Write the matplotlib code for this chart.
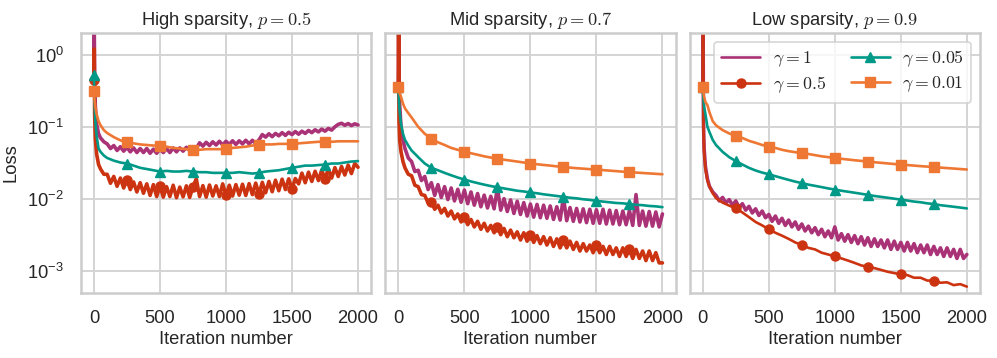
import numpy as np
import matplotlib
matplotlib.use("Agg")
import matplotlib.pyplot as plt
import seaborn as sns

# iteration grids (dense where the curves are noisy, sparse where smooth)
iters_fine = [0, 2, 5, 10, 20, 35, 50, 75] + list(range(100, 2001, 25))
iters_coarse = [0, 2, 5, 10, 20, 35, 50, 75] + list(range(100, 2001, 50))

titles = ["High sparsity, $p=0.5$", "Mid sparsity, $p=0.7$", "Low sparsity, $p=0.9$"]
labels = [r"$\gamma=1$", r"$\gamma=0.5$", r"$\gamma=0.05$", r"$\gamma=0.01$"]
colors = ["#AA3377", "#CC3311", "#009988", "#EE7733"]
markers = [None, "o", "^", "s"]

# ---- high sparsity, p = 0.5 ----
p1_g1 = [0.45, 3.0, 0.5, 0.2, 0.11, 0.08, 0.07, 0.062,
         0.058, 0.05, 0.055, 0.047, 0.053, 0.046, 0.052, 0.045, 0.051, 0.044,
         0.05, 0.044, 0.05, 0.043, 0.049, 0.043, 0.049, 0.044, 0.05, 0.044,
         0.051, 0.045, 0.051, 0.046, 0.052, 0.047, 0.053, 0.05, 0.06, 0.054,
         0.061, 0.055, 0.062, 0.056, 0.063, 0.056, 0.063, 0.057, 0.064, 0.057,
         0.064, 0.058, 0.065, 0.058, 0.065, 0.059, 0.066, 0.078, 0.072, 0.08,
         0.073, 0.081, 0.075, 0.083, 0.076, 0.084, 0.078, 0.086, 0.079, 0.087,
         0.081, 0.089, 0.083, 0.091, 0.085, 0.093, 0.087, 0.095, 0.09, 0.1,
         0.108, 0.112, 0.105, 0.111, 0.104, 0.11, 0.106]
p1_g05 = [0.45, 1.2, 0.15, 0.07, 0.042, 0.03, 0.026, 0.022,
          0.022, 0.0165, 0.0205, 0.015, 0.0195, 0.0142, 0.0185, 0.0135, 0.0172, 0.0125,
          0.0168, 0.012, 0.0162, 0.0112, 0.0158, 0.0108, 0.0152, 0.0106, 0.0148, 0.0108,
          0.0155, 0.0104, 0.0146, 0.0107, 0.0152, 0.0105, 0.0148, 0.019, 0.0108, 0.0153,
          0.0106, 0.0156, 0.011, 0.0152, 0.0108, 0.0162, 0.0112, 0.0155, 0.011, 0.0158,
          0.0113, 0.016, 0.0112, 0.0163, 0.0115, 0.0166, 0.0117, 0.017, 0.0122, 0.0175,
          0.0126, 0.0182, 0.013, 0.0188, 0.0135, 0.019, 0.0138, 0.0192, 0.0162, 0.0228,
          0.0168, 0.0235, 0.0175, 0.0242, 0.018, 0.0252, 0.0188, 0.0262, 0.0195, 0.0272,
          0.0205, 0.0282, 0.0215, 0.0295, 0.0225, 0.031, 0.0275]
p1_g005 = [0.52, 0.35, 0.2, 0.12, 0.075, 0.05, 0.045, 0.04,
           0.037, 0.034, 0.032, 0.031, 0.029, 0.027, 0.026, 0.025, 0.024, 0.0245,
           0.024, 0.024, 0.0245, 0.024, 0.0235, 0.0235, 0.023, 0.023, 0.023, 0.023,
           0.0235, 0.023, 0.0225, 0.023, 0.024, 0.0245, 0.025, 0.026, 0.027, 0.028,
           0.029, 0.029, 0.0295, 0.030, 0.031, 0.031, 0.032, 0.033, 0.0335]
p1_g001 = [0.31, 0.27, 0.23, 0.19, 0.15, 0.12, 0.105, 0.09,
           0.082, 0.072, 0.065, 0.061, 0.059, 0.057, 0.056, 0.055, 0.055, 0.053,
           0.051, 0.05, 0.049, 0.048, 0.048, 0.049, 0.049, 0.049, 0.049, 0.051,
           0.052, 0.053, 0.055, 0.056, 0.057, 0.057, 0.058, 0.058, 0.058, 0.059,
           0.06, 0.061, 0.062, 0.062, 0.062, 0.063, 0.063, 0.063, 0.063]

# ---- mid sparsity, p = 0.7 ----
p2_g1 = [0.36, 3.0, 0.4, 0.2, 0.1, 0.065, 0.05, 0.037,
         0.033, 0.024, 0.025, 0.018, 0.0205, 0.0135, 0.0168, 0.0112, 0.0158, 0.0105,
         0.0148, 0.0098, 0.0142, 0.0094, 0.0136, 0.009, 0.0133, 0.0086, 0.0125, 0.0082,
         0.0119, 0.0078, 0.0113, 0.0075, 0.0109, 0.0073, 0.0142, 0.007, 0.0101, 0.0067,
         0.0097, 0.0063, 0.0093, 0.0061, 0.0089, 0.0058, 0.0085, 0.0056, 0.0084, 0.0055,
         0.0082, 0.0054, 0.008, 0.0052, 0.0078, 0.0051, 0.0105, 0.005, 0.0076, 0.0049,
         0.0074, 0.0048, 0.0073, 0.0047, 0.0072, 0.0046, 0.0071, 0.0046, 0.0072, 0.0045,
         0.007, 0.0045, 0.0069, 0.0044, 0.0068, 0.0044, 0.0069, 0.0043, 0.0115, 0.0043,
         0.0068, 0.0042, 0.0067, 0.0042, 0.0066, 0.0041, 0.0062]
p2_g05 = [0.36, 3.0, 0.12, 0.065, 0.045, 0.033, 0.027, 0.022,
          0.021, 0.0155, 0.0148, 0.0115, 0.0112, 0.0088, 0.0092, 0.0072, 0.0082, 0.0064,
          0.0074, 0.0058, 0.0068, 0.0053, 0.0062, 0.0048, 0.0056, 0.0044, 0.0052, 0.0041,
          0.0049, 0.0038, 0.0046, 0.0036, 0.0043, 0.0034, 0.0041, 0.0032, 0.0039, 0.003,
          0.0037, 0.0029, 0.0035, 0.0027, 0.0034, 0.0026, 0.0032, 0.0025, 0.0031, 0.0024,
          0.003, 0.0023, 0.0029, 0.0022, 0.0028, 0.0021, 0.0027, 0.0021, 0.0026, 0.002,
          0.0025, 0.0019, 0.0024, 0.0019, 0.0023, 0.0018, 0.0023, 0.0018, 0.0022, 0.0017,
          0.0022, 0.0017, 0.0021, 0.0016, 0.0021, 0.0016, 0.002, 0.0015, 0.002, 0.0015,
          0.0019, 0.0014, 0.0019, 0.0014, 0.0018, 0.0013, 0.0013]
p2_g005 = [0.36, 0.3, 0.22, 0.16, 0.11, 0.08, 0.066, 0.055,
           0.047, 0.038, 0.031, 0.027, 0.025, 0.023, 0.0213, 0.0198, 0.0186, 0.0175,
           0.0166, 0.0158, 0.0151, 0.0145, 0.014, 0.0135, 0.013, 0.0127, 0.0123, 0.012,
           0.0116, 0.0113, 0.011, 0.0107, 0.0104, 0.0102, 0.0099, 0.0097, 0.0094, 0.0092,
           0.009, 0.0088, 0.0087, 0.0085, 0.0083, 0.0082, 0.008, 0.0079, 0.0077]
p2_g001 = [0.36, 0.34, 0.32, 0.29, 0.26, 0.21, 0.18, 0.155,
           0.135, 0.1, 0.08, 0.068, 0.061, 0.056, 0.051, 0.048, 0.045, 0.043,
           0.041, 0.039, 0.0375, 0.036, 0.035, 0.034, 0.033, 0.032, 0.031, 0.0303,
           0.0296, 0.029, 0.0283, 0.0277, 0.0272, 0.0267, 0.0263, 0.0259, 0.0255, 0.0251,
           0.0247, 0.0243, 0.0239, 0.0235, 0.0232, 0.0229, 0.0226, 0.0223, 0.022]

# ---- low sparsity, p = 0.9 ----
p3_g1 = [0.36, 3.0, 0.12, 0.05, 0.028, 0.019, 0.015, 0.0125,
         0.0112, 0.0094, 0.0105, 0.0088, 0.0098, 0.0082, 0.0094, 0.0076, 0.0086, 0.007,
         0.0079, 0.0064, 0.0073, 0.0059, 0.0068, 0.0055, 0.0061, 0.0049, 0.0058, 0.0046,
         0.0054, 0.0043, 0.0051, 0.0041, 0.0048, 0.0038, 0.0045, 0.0036, 0.0042, 0.0034,
         0.004, 0.0032, 0.0038, 0.003, 0.0036, 0.0029, 0.0041, 0.0027, 0.0033, 0.0026,
         0.0032, 0.0025, 0.0031, 0.0024, 0.003, 0.0023, 0.0029, 0.0022, 0.0028, 0.0022,
         0.0027, 0.0021, 0.0027, 0.002, 0.0026, 0.002, 0.0025, 0.0019, 0.0025, 0.0019,
         0.0024, 0.0018, 0.0023, 0.0018, 0.0023, 0.0017, 0.0022, 0.0017, 0.0021, 0.0016,
         0.0021, 0.0016, 0.002, 0.0015, 0.002, 0.0015, 0.0017]
p3_g05 = [0.36, 3.0, 0.1, 0.045, 0.026, 0.018, 0.015, 0.012,
          0.0103, 0.0089, 0.0081, 0.0074, 0.0065, 0.0056, 0.0048, 0.0043, 0.0038, 0.0034,
          0.0031, 0.0028, 0.0025, 0.0023, 0.0021, 0.002, 0.0018, 0.0017, 0.0016, 0.0015,
          0.0014, 0.0013, 0.0012, 0.00115, 0.0011, 0.00104, 0.00098, 0.00094, 0.0009, 0.00088,
          0.00081, 0.00081, 0.00074, 0.00074, 0.00069, 0.0007, 0.00064, 0.00066, 0.00061]
p3_g005 = [0.36, 0.3, 0.24, 0.19, 0.15, 0.1, 0.085, 0.066,
           0.056, 0.045, 0.038, 0.0335, 0.03, 0.027, 0.0248, 0.0232, 0.022, 0.0207,
           0.0195, 0.0184, 0.0174, 0.0166, 0.0158, 0.0152, 0.0146, 0.014, 0.0135, 0.013,
           0.0126, 0.0122, 0.0118, 0.0114, 0.011, 0.0107, 0.0104, 0.0101, 0.0098, 0.0095,
           0.0092, 0.009, 0.0087, 0.0085, 0.0082, 0.008, 0.0078, 0.0076, 0.0074]
p3_g001 = [0.36, 0.33, 0.3, 0.26, 0.22, 0.2, 0.16, 0.12,
           0.105, 0.09, 0.081, 0.075, 0.07, 0.064, 0.06, 0.056, 0.053, 0.051,
           0.048, 0.046, 0.0445, 0.043, 0.042, 0.0405, 0.039, 0.038, 0.037, 0.036,
           0.0352, 0.0344, 0.0337, 0.033, 0.0323, 0.0317, 0.0311, 0.0305, 0.030, 0.0295,
           0.029, 0.0285, 0.0281, 0.0277, 0.0272, 0.0268, 0.0264, 0.026, 0.0256]

panels = [
    [(iters_fine, p1_g1), (iters_fine, p1_g05), (iters_coarse, p1_g005), (iters_coarse, p1_g001)],
    [(iters_fine, p2_g1), (iters_fine, p2_g05), (iters_coarse, p2_g005), (iters_coarse, p2_g001)],
    [(iters_fine, p3_g1), (iters_coarse, p3_g05), (iters_coarse, p3_g005), (iters_coarse, p3_g001)],
]

sns.set_theme(style="whitegrid")
plt.rcParams["font.family"] = ["Liberation Sans", "DejaVu Sans"]
plt.rcParams["mathtext.fontset"] = "cm"
plt.rcParams["grid.linewidth"] = 1.4
plt.rcParams["grid.color"] = "#d4d4d4"

fig, axes = plt.subplots(1, 3, figsize=(9.97, 3.58), dpi=100, sharey=True)
fig.subplots_adjust(left=0.081, right=0.983, top=0.908, bottom=0.182, wspace=0.048)

fs = 13.2
for ax, title, series in zip(axes, titles, panels):
    for (x, y), lab, c, m in zip(series, labels, colors, markers):
        marks = [i for i, it in enumerate(x) if it % 250 == 0 and it < 2000]
        # noisy runs are drawn thicker so the jitter reads as a band
        lw = 2.6 if x is iters_fine else 1.9
        ax.plot(x, y, color=c, lw=lw, marker=m, markevery=marks, ms=6.5, label=lab)
    ax.set_yscale("log")
    ax.set_ylim(5e-4, 2)
    ax.set_xlim(-100, 2100)
    ax.set_xticks([0, 500, 1000, 1500, 2000])
    ax.set_title(title, fontsize=fs, pad=6)
    ax.set_xlabel("Iteration number", fontsize=fs, labelpad=3.5)
    ax.tick_params(axis="x", labelsize=fs, pad=6)
    ax.tick_params(axis="y", labelsize=fs, pad=6)
    for s in ax.spines.values():
        s.set_color("#cccccc")
        s.set_linewidth(1.8)

axes[0].set_ylabel("Loss", fontsize=fs, labelpad=6)
leg = axes[2].legend(loc="upper right", ncol=2, fontsize=12.8, handlelength=2.2,
                     handletextpad=0.7, columnspacing=1.4, borderpad=0.4,
                     labelspacing=0.3)
leg.get_frame().set_linewidth(1.2)
for h in leg.get_lines():
    h.set_linewidth(1.9)

fig.savefig("out.png", dpi=100)
